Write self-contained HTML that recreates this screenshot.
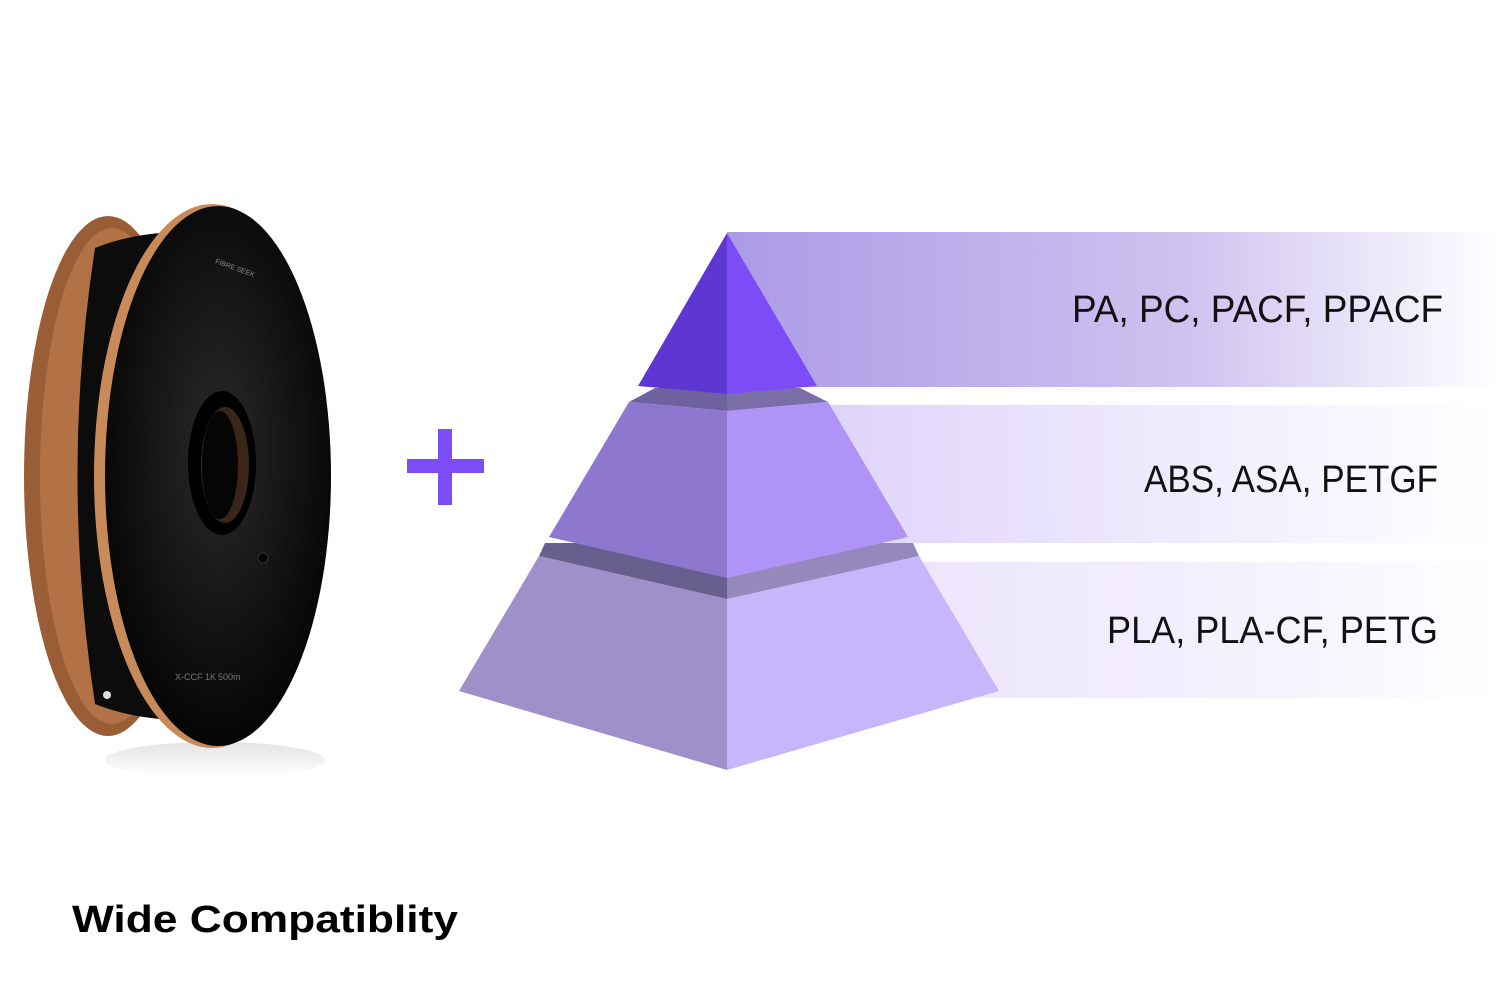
<!DOCTYPE html>
<html><head><meta charset="utf-8"><style>
html,body{margin:0;padding:0;background:#fff;width:1500px;height:1000px;overflow:hidden}
svg text{font-family:"Liberation Sans",sans-serif}
</style></head><body>
<svg width="1500" height="1000" viewBox="0 0 1500 1000" xmlns="http://www.w3.org/2000/svg">
<defs>
<linearGradient id="b1" x1="0" x2="1"><stop offset="0" stop-color="#ab9be6"/><stop offset="0.6" stop-color="#cfc3f0"/><stop offset="1" stop-color="#fff"/></linearGradient>
<linearGradient id="b2" x1="0" x2="1"><stop offset="0" stop-color="#ddd2fb"/><stop offset="0.6" stop-color="#f2eefd"/><stop offset="1" stop-color="#fff"/></linearGradient>
<linearGradient id="b3" x1="0" x2="1"><stop offset="0" stop-color="#ebe4fd"/><stop offset="0.6" stop-color="#f5f1fe"/><stop offset="1" stop-color="#fff"/></linearGradient>
<radialGradient id="face" cx="0.5" cy="0.45" r="0.55"><stop offset="0" stop-color="#2a2a2a"/><stop offset="1" stop-color="#050505"/></radialGradient>
<linearGradient id="shadow" x1="0" x2="0" y1="0" y2="1"><stop offset="0" stop-color="#ddd"/><stop offset="1" stop-color="#fff"/></linearGradient>
</defs>
<rect x="727" y="232" width="773" height="155" fill="url(#b1)"/>
<rect x="800" y="405" width="700" height="138" fill="url(#b2)"/>
<rect x="880" y="562" width="620" height="136" fill="url(#b3)"/>
<polygon points="539,556 727,599 727,770 459,691" fill="#9f90c9"/>
<polygon points="727,599 919,556 999,691 727,770" fill="#c8b6fa"/>
<polygon points="545,543 727,543 727,599 539,556" fill="#67608f"/>
<polygon points="727,543 913,543 919,556 727,599" fill="#9488bd"/>
<polygon points="655,388 727,388 727,411 629,402" fill="#6e63a0"/>
<polygon points="727,388 800,388 828,402 727,411" fill="#7b6faa"/>
<polygon points="629,402 727,411 727,578 549,537" fill="#8e78cf"/>
<polygon points="727,411 828,402 908,537 727,578" fill="#b093f6"/>
<polygon points="727,233 727,394 638,386" fill="#5e37d3"/>
<polygon points="727,233 817,386 727,394" fill="#7c4df7"/>
<rect x="407" y="459" width="77" height="14" fill="#7c4df7"/>
<rect x="438" y="429" width="14" height="76" fill="#7c4df7"/>
<!-- spool -->
<ellipse cx="215" cy="760" rx="110" ry="18" fill="url(#shadow)" opacity="0.8"/>
<ellipse cx="108" cy="476" rx="84" ry="260" fill="#9a5e36"/>
<ellipse cx="112" cy="476" rx="72" ry="248" fill="#b27246"/>
<path d="M95 248 Q140 230 200 232 L200 720 Q140 722 95 704 Q60 476 95 248 Z" fill="#0c0c0c"/>
<ellipse cx="212" cy="476" rx="118" ry="272" fill="#c98a5a"/>
<ellipse cx="218" cy="476" rx="113" ry="270" fill="url(#face)"/>
<ellipse cx="222" cy="463" rx="34" ry="72" fill="#000"/>
<ellipse cx="225" cy="465" rx="24" ry="58" fill="#3a2618"/>
<ellipse cx="220" cy="465" rx="18" ry="54" fill="#050505"/>
<circle cx="263" cy="558" r="5" fill="#000" stroke="#333"/>
<circle cx="107" cy="695" r="4" fill="#ddd"/>
<text x="214" y="272" font-size="7" fill="#888" transform="rotate(20 240 270)">FIBRE SEEK</text>
<text x="175" y="680" font-size="9" fill="#777">X-CCF 1K</text>
<text x="218" y="680" font-size="9" fill="#777">500m</text>
<text x="1443" y="322" font-size="38" fill="#111" text-anchor="end" textLength="371" lengthAdjust="spacingAndGlyphs">PA, PC, PACF, PPACF</text>
<text x="1438" y="492" font-size="38" fill="#111" text-anchor="end" textLength="294" lengthAdjust="spacingAndGlyphs">ABS, ASA, PETGF</text>
<text x="1438" y="643" font-size="38" fill="#111" text-anchor="end" textLength="331" lengthAdjust="spacingAndGlyphs">PLA, PLA-CF, PETG</text>
<text x="72" y="932" font-size="38" font-weight="bold" fill="#000" textLength="386" lengthAdjust="spacingAndGlyphs">Wide Compatiblity</text>
</svg>
</body></html>
